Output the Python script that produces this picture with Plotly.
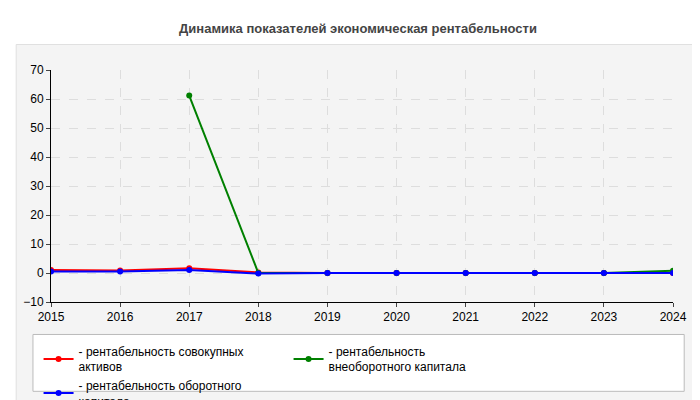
import plotly.graph_objects as go

years = [2015, 2016, 2017, 2018, 2019, 2020, 2021, 2022, 2023, 2024]
red = [1.0, 0.9, 1.6, 0.2, 0, 0, 0, 0, 0, 0]
green = [None, None, 61.2, 0, 0, 0, 0, 0, 0, 0.8]
blue = [0.5, 0.5, 1.0, -0.2, 0, 0, 0, 0, 0, 0]
names = ["- рентабельность совокупных<br>активов",
         "- рентабельность<br>внеоборотного капитала",
         "- рентабельность оборотного<br>капитала"]
colors = ["#ff0000", "#008000", "#0000ff"]

fig = go.Figure()
for ys, n, c in zip([red, green, blue], names, colors):
    fig.add_trace(go.Scatter(x=years, y=ys, name=n, mode="lines+markers",
                             line=dict(color=c, width=2), marker=dict(color=c, size=6),
                             connectgaps=False))

fig.update_layout(
    width=700, height=400, margin=dict(l=43, r=35, t=62, b=106, autoexpand=False),
    paper_bgcolor="white", plot_bgcolor="#fdfdf8",
    font=dict(family="Arial, Liberation Sans", size=12, color="#000"),
    title=dict(text="<b>Динамика показателей экономическая рентабельности</b>",
               x=0.5, y=0.95, xanchor="center", yanchor="middle",
               font=dict(size=13, color="#444")),
    xaxis=dict(range=[2015, 2024], tickvals=years, showgrid=True, gridcolor="#dddddd",
               griddash="dash", zeroline=False, ticks="outside", ticklen=4,
               showline=True, linecolor="#000", automargin=False),
    yaxis=dict(range=[-10, 70], dtick=10, showgrid=True, gridcolor="#dddddd",
               griddash="dash", zeroline=False, ticks="outside", ticklen=4,
               showline=True, linecolor="#000", automargin=False),
    legend=dict(orientation="h", x=-0.02, y=-0.15, xanchor="left", yanchor="top",
                bgcolor="rgba(0,0,0,0)", font=dict(size=12), entrywidth=205,
                itemwidth=30, tracegroupgap=0),
    shapes=[
        dict(type="rect", xref="paper", yref="paper", x0=-0.056, x1=1.051, y0=-0.43, y1=1.11,
             fillcolor="#f4f4f4", line=dict(color="#e0e0e0", width=1), layer="below"),
        dict(type="rect", xref="paper", yref="paper", x0=-0.029, x1=1.018, y0=-0.385, y1=-0.14,
             fillcolor="white", line=dict(color="#bbbbbb", width=1), layer="below"),
    ],
)
fig.write_html("out.html")
